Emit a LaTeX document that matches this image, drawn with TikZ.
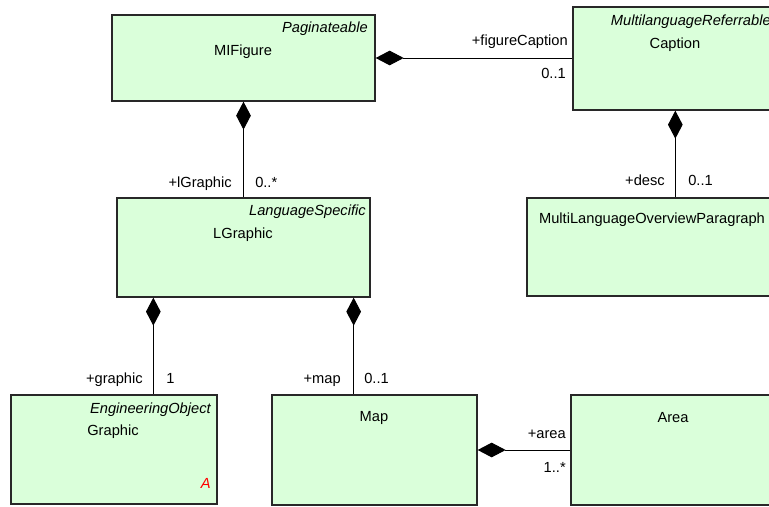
\documentclass[tikz,border=0pt]{standalone}
\usepackage{fontspec}
\setmainfont{Liberation Sans}
\usetikzlibrary{arrows.meta,fit,calc}
\definecolor{boxfill}{RGB}{218,255,218}
\definecolor{boxline}{RGB}{40,40,40}
\begin{document}
\begin{tikzpicture}[x=0.75pt,y=-0.75pt,
  umlbox/.style={rectangle, draw=boxline, line width=1pt, fill=boxfill, inner sep=0pt},
  txt/.style={inner sep=0pt, font=\fontsize{11pt}{13pt}\selectfont},
  ster/.style={inner sep=0pt, font=\fontsize{11pt}{13pt}\selectfont\itshape, anchor=base east},
  cname/.style={txt, anchor=base},
  lblL/.style={txt, anchor=base east},
  lblR/.style={txt, anchor=base west},
  comp/.style={line width=0.75pt, {Diamond[length=21pt,width=11pt]}-}
]
\useasboundingbox (0,0) rectangle (769,507);
\clip (0,0) rectangle (769,507);

% boxes
\node[umlbox, fit={(112,15) (375,101)}] (mifig) {};
\node[umlbox, fit={(573,7) (777,110)}] (caption) {};
\node[umlbox, fit={(117,198) (370,297)}] (lgraphic) {};
\node[umlbox, fit={(527,198) (777,296)}] (mlop) {};
\node[umlbox, fit={(11,395) (217,504)}] (graphic) {};
\node[umlbox, fit={(272,395) (477,505)}] (map) {};
\node[umlbox, fit={(571,395) (775,505)}] (area) {};

% box texts
\node[ster] (mifigS) at (368,32) {Paginateable};
\node[cname] (mifigN) at (243,55) {MIFigure};
\node[ster] (captionS) at (771,25) {MultilanguageReferrable};
\node[cname] (captionN) at (675,48) {Caption};
\node[ster] (lgraphicS) at (366,215) {LanguageSpecific};
\node[cname] (lgraphicN) at (243,238) {LGraphic};
\node[cname] (mlopN) at (652,223) {MultiLanguageOverviewParagraph};
\node[ster] (graphicS) at (211,413) {EngineeringObject};
\node[cname] (graphicN) at (113,435) {Graphic};
\node[ster, text=red] (graphicA) at (211,488) {A};
\node[cname] (mapN) at (374,421) {Map};
\node[cname] (areaN) at (673,422) {Area};

% connectors
\draw[comp] (mifig.east) -- (mifig.east -| caption.west);
\draw[comp] (mifig.south) -- (lgraphic.north);
\path (caption.south west) ++(103,0) coordinate (capS);
\draw[comp] (capS) -- (capS |- mlop.north);
\path (lgraphic.south west) ++(37,0) coordinate (lgS1);
\draw[comp] (lgS1) -- (lgS1 |- graphic.north);
\path (lgraphic.south east) ++(-17,0) coordinate (lgS2);
\draw[comp] (lgS2) -- (lgS2 |- map.north);
\draw[comp] (map.east) -- (map.east -| area.west);

% role / multiplicity labels
\node[lblL] (r1) at (568,45) {+figureCaption};
\node[lblL] (m1) at (566,78) {0..1};
\node[lblL] (r2) at (232,187) {+lGraphic};
\node[lblR] (m2) at (255,187) {0..*};
\node[lblL] (r3) at (665,185) {+desc};
\node[lblR] (m3) at (688,185) {0..1};
\node[lblL] (r4) at (143,383) {+graphic};
\node[lblR] (m4) at (166,383) {1};
\node[lblL] (r5) at (341,383) {+map};
\node[lblR] (m5) at (364,383) {0..1};
\node[lblL] (r6) at (566,438) {+area};
\node[lblL] (m6) at (566,472) {1..*};
\end{tikzpicture}
\end{document}
